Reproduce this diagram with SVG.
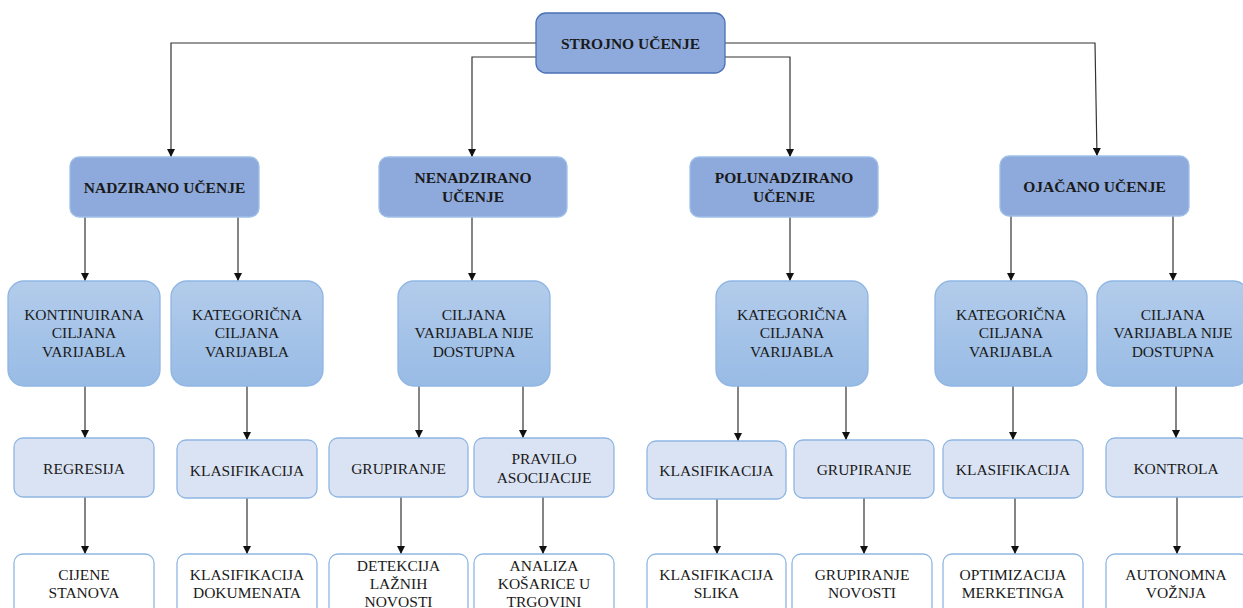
<svg xmlns="http://www.w3.org/2000/svg" width="1243" height="608" viewBox="0 0 1243 608" font-family="'Liberation Serif', 'DejaVu Serif', serif">
<defs>
<linearGradient id="g2" x1="0" y1="0" x2="0" y2="1">
<stop offset="0" stop-color="#b3cceb"/>
<stop offset="1" stop-color="#98bbe5"/>
</linearGradient>
<marker id="ar" viewBox="0 0 10 10" refX="10" refY="5" markerWidth="8" markerHeight="8" markerUnits="userSpaceOnUse" orient="auto">
<path d="M0,0 L10,5 L0,10 z" fill="#111"/>
</marker>
<style>
text{font-family:'Liberation Serif','DejaVu Serif',serif;font-size:15.5px;fill:#1a1a1a;text-anchor:middle}
.b{font-weight:bold}
.n0{fill:#8eaadc;stroke:#4a70b5;stroke-width:1.3}
.n1{fill:#8eaadc;stroke:#9fc0e8;stroke-width:1.3}
.n2{fill:url(#g2);stroke:#8fb6e3;stroke-width:1.3}
.n3{fill:#dae3f3;stroke:#8fb6e3;stroke-width:1.3}
.n4{fill:#fff;stroke:#8fb6e3;stroke-width:1.3}
.c{fill:none;stroke:#333;stroke-width:1.2;marker-end:url(#ar)}
</style>
</defs>
<rect width="1243" height="608" fill="#fff"/>
<g id="connectors">
<path class="c" d="M536,43 H171 V157"/>
<path class="c" d="M536,57 H472 V157"/>
<path class="c" d="M725,57 H790 V157"/>
<path class="c" d="M725,43 H1095 L1097,156"/>
<path class="c" d="M85,217 V281"/>
<path class="c" d="M238,217 V281"/>
<path class="c" d="M472,217 V281"/>
<path class="c" d="M790,217 V281"/>
<path class="c" d="M1011,216 V281"/>
<path class="c" d="M1173,216 V281"/>
<path class="c" d="M85,386 V438"/>
<path class="c" d="M247,386 V440"/>
<path class="c" d="M419,386 V438"/>
<path class="c" d="M523,386 V438"/>
<path class="c" d="M738,386 V441"/>
<path class="c" d="M846,386 V440"/>
<path class="c" d="M1013,386 V440"/>
<path class="c" d="M1176,386 V438"/>
<path class="c" d="M85,497 V554"/>
<path class="c" d="M247,498 V554"/>
<path class="c" d="M401,497 V554"/>
<path class="c" d="M543,497 V554"/>
<path class="c" d="M717,499 V554"/>
<path class="c" d="M864,498 V554"/>
<path class="c" d="M1015,498 V554"/>
<path class="c" d="M1177,497 V554"/>
</g>
<g id="strojno"><rect class="n0" x="536" y="13" width="189" height="60" rx="10"/><text class="b" x="630.5" y="49">STROJNO UČENJE</text></g>
<g id="nadzirano"><rect class="n1" x="70" y="157" width="189" height="60" rx="9"/><text class="b" x="164.5" y="193">NADZIRANO UČENJE</text></g>
<g id="nenadzirano"><rect class="n1" x="379" y="157" width="188" height="60" rx="9"/><text class="b" x="473" y="183">NENADZIRANO</text><text class="b" x="473" y="202">UČENJE</text></g>
<g id="polunadzirano"><rect class="n1" x="690" y="157" width="188" height="60" rx="9"/><text class="b" x="784" y="183">POLUNADZIRANO</text><text class="b" x="784" y="202">UČENJE</text></g>
<g id="ojacano"><rect class="n1" x="1000" y="156" width="189" height="60" rx="9"/><text class="b" x="1094.5" y="192">OJAČANO UČENJE</text></g>
<g id="kontinuirana"><rect class="n2" x="8" y="281" width="152" height="105" rx="16"/><text x="84" y="320">KONTINUIRANA</text><text x="84" y="338">CILJANA</text><text x="84" y="357">VARIJABLA</text></g>
<g id="kategoricna1"><rect class="n2" x="171" y="281" width="152" height="105" rx="16"/><text x="247" y="320">KATEGORIČNA</text><text x="247" y="338">CILJANA</text><text x="247" y="357">VARIJABLA</text></g>
<g id="ciljana1"><rect class="n2" x="398" y="281" width="152" height="105" rx="16"/><text x="474" y="320">CILJANA</text><text x="474" y="338">VARIJABLA NIJE</text><text x="474" y="357">DOSTUPNA</text></g>
<g id="kategoricna2"><rect class="n2" x="716" y="281" width="152" height="105" rx="16"/><text x="792" y="320">KATEGORIČNA</text><text x="792" y="338">CILJANA</text><text x="792" y="357">VARIJABLA</text></g>
<g id="kategoricna3"><rect class="n2" x="935" y="281" width="152" height="105" rx="16"/><text x="1011" y="320">KATEGORIČNA</text><text x="1011" y="338">CILJANA</text><text x="1011" y="357">VARIJABLA</text></g>
<g id="ciljana2"><rect class="n2" x="1097" y="281" width="152" height="105" rx="16"/><text x="1173" y="320">CILJANA</text><text x="1173" y="338">VARIJABLA NIJE</text><text x="1173" y="357">DOSTUPNA</text></g>
<g id="regresija"><rect class="n3" x="14" y="438" width="140" height="59" rx="9"/><text x="84" y="474">REGRESIJA</text></g>
<g id="klasifikacija1"><rect class="n3" x="177" y="440" width="140" height="58" rx="9"/><text x="247" y="476">KLASIFIKACIJA</text></g>
<g id="grupiranje1"><rect class="n3" x="329" y="438" width="139" height="59" rx="9"/><text x="398.5" y="474">GRUPIRANJE</text></g>
<g id="pravilo"><rect class="n3" x="474" y="438" width="140" height="59" rx="9"/><text x="544" y="464">PRAVILO</text><text x="544" y="483">ASOCIJACIJE</text></g>
<g id="klasifikacija2"><rect class="n3" x="647" y="441" width="139" height="58" rx="9"/><text x="716.5" y="476">KLASIFIKACIJA</text></g>
<g id="grupiranje2"><rect class="n3" x="794" y="440" width="140" height="58" rx="9"/><text x="864" y="475">GRUPIRANJE</text></g>
<g id="klasifikacija3"><rect class="n3" x="943" y="440" width="140" height="58" rx="9"/><text x="1013" y="475">KLASIFIKACIJA</text></g>
<g id="kontrola"><rect class="n3" x="1106" y="438" width="143" height="59" rx="9"/><text x="1176" y="474">KONTROLA</text></g>
<g id="cijene"><rect class="n4" x="14" y="554" width="140" height="70" rx="9"/><text x="84" y="580">CIJENE</text><text x="84" y="598">STANOVA</text></g>
<g id="dokumenti"><rect class="n4" x="177" y="554" width="140" height="70" rx="9"/><text x="247" y="580">KLASIFIKACIJA</text><text x="247" y="598">DOKUMENATA</text></g>
<g id="detekcija"><rect class="n4" x="329" y="554" width="139" height="70" rx="9"/><text x="398.5" y="571">DETEKCIJA</text><text x="398.5" y="589">LAŽNIH</text><text x="398.5" y="607">NOVOSTI</text></g>
<g id="analiza"><rect class="n4" x="474" y="554" width="140" height="70" rx="9"/><text x="544" y="571">ANALIZA</text><text x="544" y="589">KOŠARICE U</text><text x="544" y="607">TRGOVINI</text></g>
<g id="slike"><rect class="n4" x="647" y="554" width="139" height="70" rx="9"/><text x="716.5" y="580">KLASIFIKACIJA</text><text x="716.5" y="598">SLIKA</text></g>
<g id="novosti"><rect class="n4" x="792" y="554" width="140" height="70" rx="9"/><text x="862" y="580">GRUPIRANJE</text><text x="862" y="598">NOVOSTI</text></g>
<g id="marketing"><rect class="n4" x="943" y="554" width="140" height="70" rx="9"/><text x="1013" y="580">OPTIMIZACIJA</text><text x="1013" y="598">MERKETINGA</text></g>
<g id="voznja"><rect class="n4" x="1106" y="554" width="143" height="70" rx="9"/><text x="1176" y="580">AUTONOMNA</text><text x="1176" y="598">VOŽNJA</text></g>
</svg>
